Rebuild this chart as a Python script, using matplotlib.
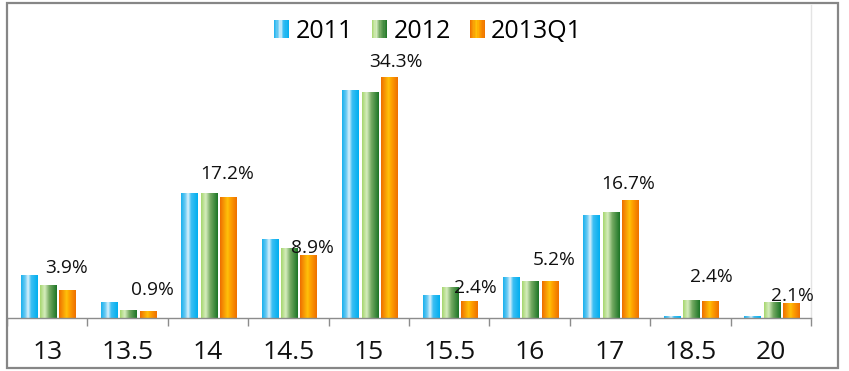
import numpy as np
import matplotlib
matplotlib.use('Agg')
import matplotlib.pyplot as plt
from matplotlib.colors import LinearSegmentedColormap
from matplotlib.patches import Rectangle
from matplotlib.legend_handler import HandlerPatch

# Data (share in %)
categories = ['13', '13.5', '14', '14.5', '15', '15.5', '16', '17', '18.5', '20']
series_names = ['2011', '2012', '2013Q1']
values_2011 = [6.1, 2.2, 17.8, 11.2, 32.5, 3.2, 5.8, 14.6, 0.2, 0.2]
values_2012 = [4.6, 1.0, 17.8, 9.9, 32.2, 4.4, 5.2, 15.1, 2.5, 2.2]
values_2013q1 = [3.9, 0.9, 17.2, 8.9, 34.3, 2.4, 5.2, 16.7, 2.4, 2.1]
label_texts = ['3.9%', '0.9%', '17.2%', '8.9%', '34.3%', '2.4%', '5.2%', '16.7%', '2.4%', '2.1%']

# hand placed label offsets (pixels) as in the original
label_offsets = [(-1, 23), (4, 22), (-1, 23), (4, 8), (7, 16),
                 (6, 13), (4, 22), (-2, 17), (0, 24), (1, 7)]

FONT = ['Open Sans', 'DejaVu Sans']
plt.rcParams['font.family'] = FONT

# cylinder-like gradients for each series
gradients = [
    [(0.0, '#19B1EE'), (0.25, '#6CCBF3'), (0.42, '#DDF2FB'), (0.6, '#3DBFF3'), (1.0, '#00AEEF')],
    [(0.0, '#A6D66E'), (0.28, '#D6EDBE'), (0.55, '#74AA62'), (1.0, '#1C7526')],
    [(0.0, '#EE6E00'), (0.45, '#FFC20A'), (0.6, '#FFA400'), (1.0, '#EE7000')],
]
cmaps = [LinearSegmentedColormap.from_list('g%d' % i, g) for i, g in enumerate(gradients)]


class GradientHandler(HandlerPatch):
    """Legend key drawn as thin vertical strips of the gradient"""
    def __init__(self, cmap, n=12):
        super().__init__()
        self.cmap = cmap
        self.n = n

    def create_artists(self, legend, orig_handle, xdescent, ydescent,
                       width, height, fontsize, trans):
        arts = []
        sw = width / self.n
        for k in range(self.n):
            r = Rectangle((-xdescent + k * sw, -ydescent), sw * 1.05, height,
                          facecolor=self.cmap((k + 0.5) / self.n),
                          edgecolor='none', transform=trans)
            arts.append(r)
        return arts


W, H = 849, 371
fig = plt.figure(figsize=(W / 100, H / 100), dpi=100)

# plot area in pixels: x 7..811, baseline at y=318, top at y=5
px_per_pct = 7.01
ax = fig.add_axes([7 / W, (H - 318) / H, (811 - 7) / W, (318 - 5) / H])
ymax = (318 - 5) / px_per_pct

x = np.arange(len(categories))
width = 0.21
offsets = [-0.225, 0.015, 0.255]
all_values = [values_2011, values_2012, values_2013q1]

containers = []
for vals, off, cmap in zip(all_values, offsets, cmaps):
    bars = ax.bar(x + off, vals, width, facecolor='none', edgecolor='none')
    containers.append(bars)
    grad = np.linspace(0, 1, 64)[np.newaxis, :]
    for b in bars:
        x0, w, h = b.get_x(), b.get_width(), b.get_height()
        ax.imshow(grad, extent=(x0, x0 + w, 0, h), cmap=cmap,
                  aspect='auto', interpolation='bilinear', zorder=2)

# value labels over the 2013Q1 bars
for b, txt, (dx, dy) in zip(containers[2], label_texts, label_offsets):
    ax.annotate(txt, (b.get_x() + b.get_width() / 2, b.get_height()),
                xytext=(dx, dy), textcoords='offset pixels',
                ha='center', va='center', fontsize=13.8, color='#111111', zorder=4)

ax.set_xlim(-0.5, len(categories) - 0.5)
ax.set_ylim(0, ymax)

# axes styling
for s in ['top', 'left']:
    ax.spines[s].set_visible(False)
ax.spines['right'].set_color('#E4E4E4')
ax.spines['right'].set_linewidth(1)
ax.spines['bottom'].set_color('#8C8C8C')
ax.spines['bottom'].set_linewidth(1)
ax.set_yticks([])
ax.set_xticks(x)
ax.set_xticklabels(categories, fontsize=19, color='#111111')
ax.tick_params(axis='x', which='major', length=0, pad=16)
ax.set_xticks(np.arange(-0.5, len(categories)), minor=True)
ax.tick_params(axis='x', which='minor', length=6, width=1, color='#8C8C8C', direction='out')
ax.patch.set_alpha(0)

# legend with gradient keys
handles = [Rectangle((0, 0), 1, 1) for _ in series_names]
leg = fig.legend(handles, series_names, loc='center', bbox_to_anchor=(428 / W, 1 - 31 / H),
                 ncol=3, frameon=False, fontsize=18, handlelength=0.62, handleheight=0.72,
                 handletextpad=0.25, columnspacing=0.75, borderpad=0,
                 handler_map={h: GradientHandler(c) for h, c in zip(handles, cmaps)})

# outer chart frame
fig.patches.append(Rectangle((7 / W, 3 / H), (838 - 7) / W, (369 - 4) / H, transform=fig.transFigure,
                             facecolor='none', edgecolor='#868686', linewidth=1.6))

fig.savefig('out.png', dpi=100)
